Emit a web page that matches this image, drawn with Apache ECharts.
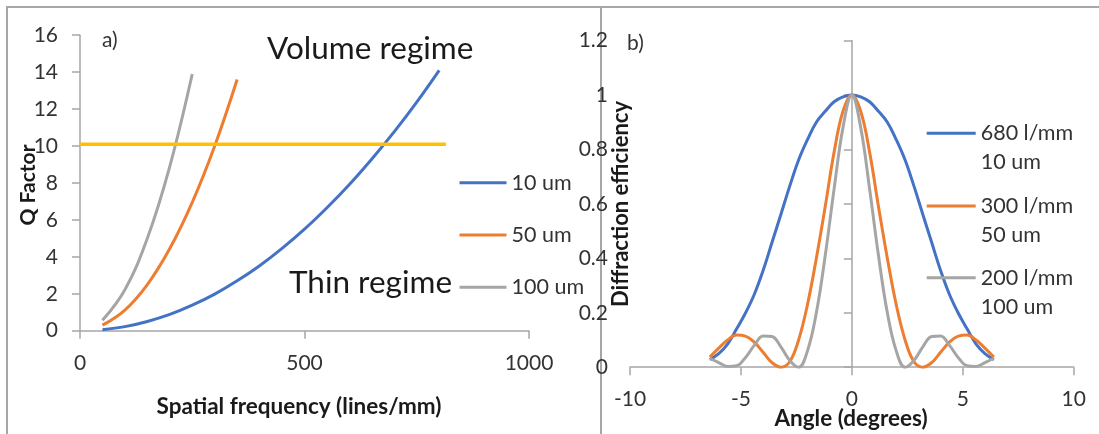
<!DOCTYPE html>
<html>
<head>
<meta charset="utf-8">
<script src="https://cdn.jsdelivr.net/npm/echarts@6/dist/echarts.min.js"></script>
<style>
  html, body { margin: 0; padding: 0; background: #ffffff; }
  #chart { width: 1099px; height: 434px; }
</style>
</head>
<body>
<div id="chart"></div>
<script>
// ---- Panel a) : Q factor vs spatial frequency ----
const freq10 = [50, 100, 150, 200, 250, 300, 350, 400, 450, 500, 550, 600, 650, 700, 750, 800];
const q10 = [0.055, 0.22, 0.5, 0.88, 1.38, 1.98, 2.7, 3.52, 4.46, 5.5, 6.66, 7.92, 9.3, 10.78, 12.38, 14.1];
const freq50 = [50, 100, 150, 200, 250, 300, 350];
const q50 = [0.3, 1.12, 2.5, 4.45, 6.95, 10.0, 13.6];
const freq100 = [50, 100, 150, 200, 250];
const q100 = [0.56, 2.22, 5.0, 8.9, 13.9];
const thresholdFreq = [0, 815];
const thresholdQ = [10.1, 10.1];
const namesA = ['10 um', '50 um', '100 um'];

// ---- Panel b) : diffraction efficiency vs angle ----
const angle = [-6.4, -6, -5.6, -5.2, -4.8, -4.4, -4, -3.6, -3.2, -2.8, -2.4, -2, -1.6, -1.2, -0.8, -0.4, 0,
               0.4, 0.8, 1.2, 1.6, 2, 2.4, 2.8, 3.2, 3.6, 4, 4.4, 4.8, 5.2, 5.6, 6, 6.4];
const eff680 = [0.028, 0.05, 0.085, 0.14, 0.198, 0.267, 0.355, 0.458, 0.561, 0.665, 0.761, 0.836, 0.90, 0.94, 0.975, 0.993, 1,
                0.993, 0.975, 0.94, 0.90, 0.836, 0.761, 0.665, 0.561, 0.458, 0.355, 0.267, 0.198, 0.14, 0.085, 0.05, 0.028];
const eff300 = [0.037, 0.07, 0.10, 0.118, 0.114, 0.092, 0.055, 0.017, 0, 0.02, 0.10, 0.23, 0.40, 0.59, 0.79, 0.94, 1,
                0.94, 0.79, 0.59, 0.40, 0.23, 0.10, 0.02, 0, 0.017, 0.055, 0.092, 0.114, 0.118, 0.10, 0.07, 0.037];
const eff200 = [0.033, 0.017, 0.003, 0.005, 0.035, 0.08, 0.115, 0.113, 0.075, 0.025, 0, 0.06, 0.2, 0.41, 0.655, 0.88, 1,
                0.88, 0.655, 0.41, 0.2, 0.06, 0, 0.025, 0.075, 0.113, 0.115, 0.08, 0.035, 0.005, 0.003, 0.017, 0.033];
const namesB = ['680 l/mm\n10 um', '300 l/mm\n50 um', '200 l/mm\n100 um'];

const zip = (xs, ys) => xs.map((x, i) => [x, ys[i]]);

const FONT = 'Lato';
const AXIS_COLOR = '#a6a6a6';
const TEXT_COLOR = '#333333';
const TITLE_COLOR = '#1a1a1a';
const C_BLUE = '#4472C4', C_ORANGE = '#ED7D31', C_GRAY = '#A5A5A5', C_YELLOW = '#FFC000';

function axisCommon(extra) {
  return Object.assign({
    type: 'value',
    splitLine: { show: false },
    axisLine: { show: true, lineStyle: { color: AXIS_COLOR, width: 1.5 } },
    axisTick: { show: true, length: 8, lineStyle: { color: AXIS_COLOR, width: 1.5 } },
    axisLabel: { color: TEXT_COLOR, fontFamily: FONT, fontSize: 21, margin: 22, formatter: v => String(v) }
  }, extra);
}

const chart = echarts.init(document.getElementById('chart'), null, { renderer: 'canvas' });

const lineSeries = (name, color, data, xi, yi, width, smooth) => ({
  name: name, type: 'line', xAxisIndex: xi, yAxisIndex: yi,
  data: data, symbol: 'none', smooth: smooth,
  lineStyle: { color: color, width: width }, itemStyle: { color: color },
  emphasis: { disabled: true }
});

const legendB = (name, top) => ({
  data: [name], orient: 'vertical', left: 926.7, top: top, padding: 0,
  icon: 'rect', itemWidth: 49, itemHeight: 3, selectedMode: false,
  formatter: n => '\n' + n,
  textStyle: { color: TEXT_COLOR, fontFamily: FONT, fontSize: 21.5, lineHeight: 29 }
});

const option = {
  animation: false,
  backgroundColor: '#ffffff',
  grid: [
    { left: 80, top: 35.2, width: 449, height: 295.5 },
    { left: 630, top: 40.5, width: 443.7, height: 326.7 }
  ],
  xAxis: [
    axisCommon({ gridIndex: 0, min: 0, max: 1000, interval: 500 }),
    axisCommon({ gridIndex: 1, min: -10, max: 10, interval: 5 })
  ],
  yAxis: [
    axisCommon({ gridIndex: 0, min: 0, max: 16, interval: 2 }),
    axisCommon({ gridIndex: 1, min: 0, max: 1.2, interval: 0.2,
                 axisLine: { show: true, onZero: true, lineStyle: { color: AXIS_COLOR, width: 1.5 } } })
  ],
  legend: [
    {
      data: namesA, orient: 'vertical', left: 459.5, top: 170.7, padding: 0,
      icon: 'rect', itemWidth: 47, itemHeight: 3, itemGap: 28.3, selectedMode: false,
      textStyle: { color: TEXT_COLOR, fontFamily: FONT, fontSize: 21.5, lineHeight: 24 }
    },
    legendB(namesB[0], 133.3 - 43.5),
    legendB(namesB[1], 206 - 43.5),
    legendB(namesB[2], 277.7 - 43.5)
  ],
  series: [
    lineSeries(namesA[0], C_BLUE, zip(freq10, q10), 0, 0, 3, 0.4),
    lineSeries(namesA[1], C_ORANGE, zip(freq50, q50), 0, 0, 3, 0.4),
    lineSeries(namesA[2], C_GRAY, zip(freq100, q100), 0, 0, 3, 0.4),
    lineSeries('threshold', C_YELLOW, zip(thresholdFreq, thresholdQ), 0, 0, 3.5, false),
    lineSeries(namesB[0], C_BLUE, zip(angle, eff680), 1, 1, 3, 0.4),
    lineSeries(namesB[1], C_ORANGE, zip(angle, eff300), 1, 1, 3, 0.4),
    lineSeries(namesB[2], C_GRAY, zip(angle, eff200), 1, 1, 3, 0.4)
  ],
  graphic: [
    { type: 'polyline', silent: true, z: -1, shape: { points: [[7, 434], [7, 7], [1099, 7]] },
      style: { stroke: AXIS_COLOR, lineWidth: 2, fill: null } },
    { type: 'line', silent: true, z: -1, shape: { x1: 601, y1: 7, x2: 601, y2: 434 },
      style: { stroke: AXIS_COLOR, lineWidth: 2 } },
    { type: 'text', silent: true, x: 102, y: 40,
      style: { text: 'a)', font: '21px Lato', fill: TEXT_COLOR, align: 'left', verticalAlign: 'middle' } },
    { type: 'text', silent: true, x: 627, y: 43,
      style: { text: 'b)', font: '21px Lato', fill: TEXT_COLOR, align: 'left', verticalAlign: 'middle' } },
    { type: 'text', silent: true, x: 267, y: 49,
      style: { text: 'Volume regime', font: '31.5px Lato', fill: TITLE_COLOR, align: 'left', verticalAlign: 'middle' } },
    { type: 'text', silent: true, x: 289, y: 283,
      style: { text: 'Thin regime', font: '31.5px Lato', fill: TITLE_COLOR, align: 'left', verticalAlign: 'middle' } },
    { type: 'text', silent: true, x: 28, y: 185, rotation: Math.PI / 2,
      style: { text: 'Q Factor', font: 'bold 21px Lato', fill: TITLE_COLOR, align: 'center', verticalAlign: 'middle' } },
    { type: 'text', silent: true, x: 299, y: 407,
      style: { text: 'Spatial frequency (lines/mm)', font: 'bold 22.5px Lato', fill: TITLE_COLOR, align: 'center', verticalAlign: 'middle' } },
    { type: 'text', silent: true, x: 621, y: 204, rotation: Math.PI / 2,
      style: { text: 'Diffraction efficiency', font: 'bold 22px Lato', fill: TITLE_COLOR, align: 'center', verticalAlign: 'middle' } },
    { type: 'text', silent: true, x: 851, y: 419,
      style: { text: 'Angle (degrees)', font: 'bold 22.5px Lato', fill: TITLE_COLOR, align: 'center', verticalAlign: 'middle' } }
  ]
};

chart.setOption(option);
</script>
</body>
</html>
